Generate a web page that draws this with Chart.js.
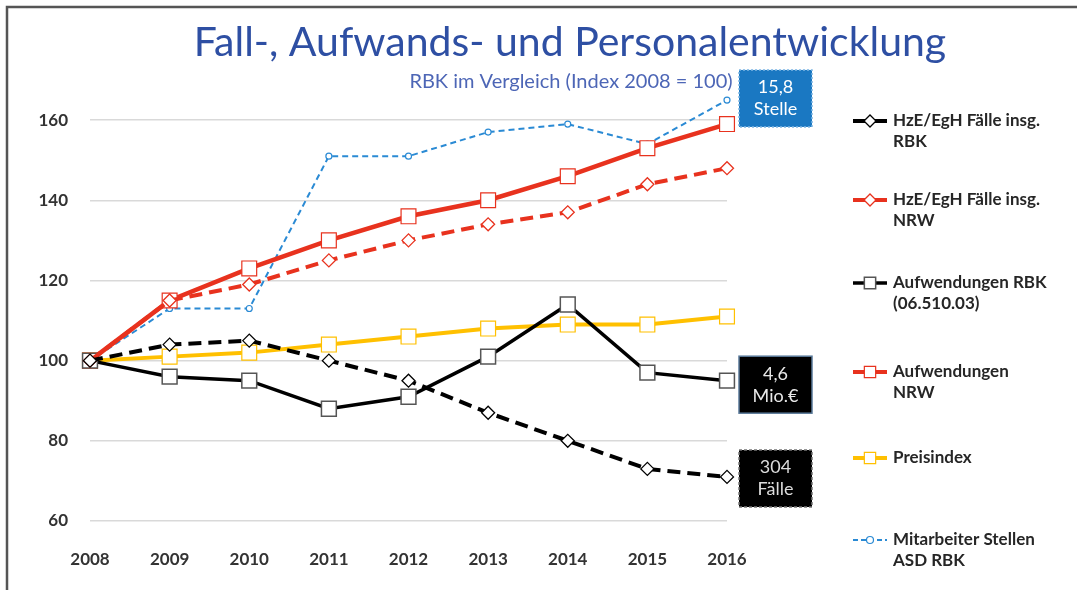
<!DOCTYPE html>
<html>
<head>
<meta charset="utf-8">
<script src="https://cdn.jsdelivr.net/npm/chart.js@4/dist/chart.umd.min.js"></script>
<style>
  html, body { margin: 0; padding: 0; background: #fff; }
  #wrap { position: relative; width: 1077px; height: 590px; }
</style>
</head>
<body>
<div id="wrap"><canvas id="chart" width="1077" height="590"></canvas></div>
<script>
// data (index 2008 = 100)
const years = ['2008', '2009', '2010', '2011', '2012', '2013', '2014', '2015', '2016'];
const faelleRBK = [100, 104, 105, 100, 95, 87, 80, 73, 71];
const faelleNRW = [100, 115, 119, 125, 130, 134, 137, 144, 148];
const aufwandRBK = [100, 96, 95, 88, 91, 101, 114, 97, 95];
const aufwandNRW = [100, 115, 123, 130, 136, 140, 146, 153, 159];
const preisindex = [100, 101, 102, 104, 106, 108, 109, 109, 111];
const stellenASD = [100, 113, 113, 151, 151, 157, 159, 154, 165];

const legendLabels = [
  ['HzE/EgH Fälle insg.', 'RBK'],
  ['HzE/EgH Fälle insg.', 'NRW'],
  ['Aufwendungen RBK', '(06.510.03)'],
  ['Aufwendungen', 'NRW'],
  ['Preisindex'],
  ['Mitarbeiter Stellen', 'ASD RBK']
];

// end labels next to 2016, anchored at an index value
const boxTexts = [['15,8', 'Stelle'], ['4,6', 'Mio.€'], ['304', 'Fälle']];
const boxValues = [165.4, 94, 70.6];

const titleText = 'Fall-, Aufwands- und Personalentwicklung';
const subTitleText = 'RBK im Vergleich (Index 2008 = 100)';

const RED = '#e8321e';
const YELLOW = '#ffc000';
const BLUE = '#2a8ad4';
const FONT = 'Lato, "Open Sans", sans-serif';

function makeSet(label, data, color, opts) {
  return Object.assign({
    label: label,
    data: data,
    borderColor: color,
    backgroundColor: color,
    pointBackgroundColor: '#fff',
    pointBorderColor: color,
    tension: 0,
    clip: false,
    fill: false
  }, opts);
}

const datasets = [
  makeSet(legendLabels[0].join(' '), faelleRBK, '#000', {
    borderWidth: 4, borderDash: [13, 7], pointStyle: 'rectRot', pointRadius: 6.5, pointBorderWidth: 1.3
  }),
  makeSet(legendLabels[1].join(' '), faelleNRW, RED, {
    borderWidth: 4, borderDash: [13, 7], pointStyle: 'rectRot', pointRadius: 6.5, pointBorderWidth: 1.3
  }),
  makeSet(legendLabels[2].join(' '), aufwandRBK, '#000', {
    borderWidth: 3.5, pointStyle: 'rect', pointRadius: 10.5, pointBorderWidth: 1.5, pointBorderColor: '#555'
  }),
  makeSet(legendLabels[3].join(' '), aufwandNRW, RED, {
    borderWidth: 4.5, pointStyle: 'rect', pointRadius: 10.5, pointBorderWidth: 1.2
  }),
  makeSet(legendLabels[4].join(' '), preisindex, YELLOW, {
    borderWidth: 4, pointStyle: 'rect', pointRadius: 10.5, pointBorderWidth: 1.2
  }),
  makeSet(legendLabels[5].join(' '), stellenASD, BLUE, {
    borderWidth: 2, borderDash: [6, 4], pointStyle: 'circle', pointRadius: 3, pointBorderWidth: 1.2
  })
];

const decorPlugin = {
  id: 'decor',
  beforeDraw(chart) {
    const ctx = chart.ctx;
    ctx.save();
    ctx.fillStyle = '#fff';
    ctx.fillRect(0, 0, chart.width, chart.height);
    // frame
    ctx.strokeStyle = '#555';
    ctx.lineWidth = 2.5;
    ctx.beginPath();
    ctx.moveTo(7, chart.height);
    ctx.lineTo(7, 7);
    ctx.lineTo(chart.width, 7);
    ctx.stroke();
    // titles
    ctx.textAlign = 'center';
    ctx.textBaseline = 'middle';
    ctx.fillStyle = '#2e4fa3';
    ctx.font = '41px ' + FONT;
    ctx.fillText(titleText, 570, 43);
    ctx.fillStyle = '#4d66b6';
    ctx.font = '20px ' + FONT;
    ctx.fillText(subTitleText, 571, 82);
    ctx.restore();
  },
  afterDraw(chart) {
    const ctx = chart.ctx;
    const xs = chart.scales.x;
    const ys = chart.scales.y;
    ctx.save();

    // end boxes
    const bx = xs.getPixelForValue(years.length - 1) + 12;
    const bw = 73, bh = 57;
    const boxStyles = [
      { fill: '#1a78c2', stroke: '#7fb6e3', dash: [2, 2], text: '#fff' },
      { fill: '#000', stroke: '#5a7a9a', dash: [], text: '#e8e8e8' },
      { fill: '#000', stroke: '#777', dash: [3, 2], text: '#dcdcdc' }
    ];
    boxTexts.forEach((lines, i) => {
      const st = boxStyles[i];
      const cy = ys.getPixelForValue(boxValues[i]);
      ctx.fillStyle = st.fill;
      ctx.fillRect(bx, cy - bh / 2, bw, bh);
      ctx.strokeStyle = st.stroke;
      ctx.lineWidth = 1.5;
      ctx.setLineDash(st.dash);
      ctx.strokeRect(bx, cy - bh / 2, bw, bh);
      ctx.setLineDash([]);
      ctx.fillStyle = st.text;
      ctx.font = '18px ' + FONT;
      ctx.textAlign = 'center';
      ctx.textBaseline = 'middle';
      ctx.fillText(lines[0], bx + bw / 2, cy - 11);
      ctx.fillText(lines[1], bx + bw / 2, cy + 11);
    });

    // legend on the right
    const legendY = [121, 200, 283, 372, 458, 540];
    const lx0 = 853, lx1 = 887, tx = 893;
    chart.data.datasets.forEach((ds, i) => {
      const y = legendY[i];
      ctx.strokeStyle = ds.borderColor;
      ctx.lineWidth = Math.min(ds.borderWidth, 4);
      ctx.setLineDash(i === 5 ? [5, 3] : []);
      ctx.beginPath();
      ctx.moveTo(lx0, y);
      ctx.lineTo(lx1, y);
      ctx.stroke();
      ctx.setLineDash([]);
      const r = ds.pointStyle === 'rect' ? 8 : (ds.pointStyle === 'rectRot' ? 6 : 3.5);
      ctx.fillStyle = '#fff';
      ctx.strokeStyle = ds.pointBorderColor;
      ctx.lineWidth = ds.pointBorderWidth;
      Chart.helpers.drawPoint(ctx, { pointStyle: ds.pointStyle, radius: r, borderWidth: ds.pointBorderWidth }, (lx0 + lx1) / 2, y);

      ctx.fillStyle = '#262626';
      ctx.font = 'bold 17px ' + FONT;
      ctx.textAlign = 'left';
      ctx.textBaseline = 'middle';
      legendLabels[i].forEach((t, k) => {
        ctx.fillText(t, tx, y + k * 21);
      });
    });
    ctx.restore();
  }
};

new Chart(document.getElementById('chart'), {
  type: 'line',
  data: { labels: years, datasets: datasets },
  options: {
    responsive: false,
    animation: false,
    layout: { padding: { top: 80, right: 350, bottom: 0, left: 0 } },
    plugins: {
      legend: { display: false },
      tooltip: { enabled: false },
      title: { display: false }
    },
    scales: {
      x: {
        offset: false,
        grid: { display: false, drawTicks: false },
        border: { display: false },
        ticks: {
          padding: 28,
          color: '#333',
          font: { family: FONT, size: 17, weight: 'bold' },
          maxRotation: 0
        },
        afterFit(scale) { scale.height = 69; }
      },
      y: {
        min: 60,
        max: 170,
        grid: { color: '#d9d9d9', lineWidth: 1.5, drawTicks: false },
        border: { display: false },
        ticks: {
          stepSize: 20,
          padding: 22,
          color: '#333',
          font: { family: FONT, size: 17, weight: 'bold' }
        },
        afterBuildTicks(scale) {
          scale.ticks = scale.ticks.filter(t => t.value <= 160);
        },
        afterFit(scale) { scale.width = 90; }
      }
    }
  },
  plugins: [decorPlugin]
});
</script>
</body>
</html>
